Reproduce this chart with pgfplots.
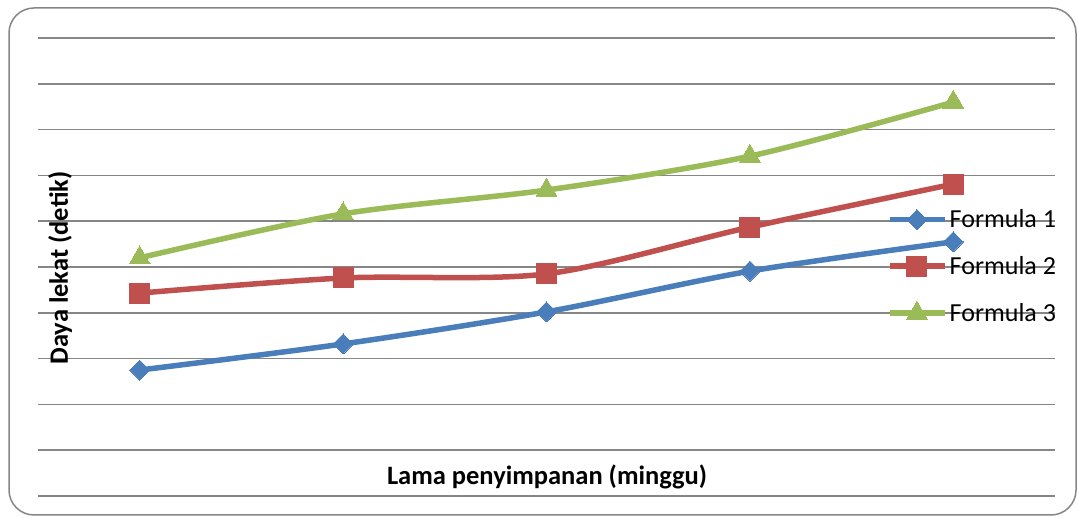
\documentclass[border=0pt]{standalone}
\usepackage{pgfplots}
\pgfplotsset{compat=1.18}
\usepackage{fontspec}
\setmainfont{Carlito}
\definecolor{cblue}{RGB}{74,126,187}
\definecolor{cred}{RGB}{192,80,77}
\definecolor{cgreen}{RGB}{155,187,89}
\definecolor{cgrid}{RGB}{134,134,134}
\begin{document}
\begin{tikzpicture}
\begin{axis}[
  scale only axis, width=1017pt, height=458pt,
  xmin=0.5, xmax=5.5, ymin=0, ymax=10,
  xtick=\empty, ytick={0,1,...,10},
  yticklabels=\empty, major tick length=0pt,
  ymajorgrids, grid style={cgrid, line width=1.5pt},
  axis line style={draw=none},
  clip=false,
  legend style={draw=none, fill=none, at={(0.835,0.629)}, anchor=north west,
    font=\fontsize{26}{30}\selectfont, row sep=23pt,
    inner sep=0pt, outer sep=0pt,
    /tikz/every even column/.append style={column sep=2pt}},
  legend cell align=left,
  legend image code/.code={\draw[mark repeat=2,mark phase=2,#1] plot coordinates {(0pt,0pt)(27pt,0pt)(55pt,0pt)};},
]
\addplot[cblue, line width=5.5pt, smooth, mark=diamond*, mark size=10pt, mark options={solid, line width=0pt, xscale=1.33}] coordinates {(1,2.75)(2,3.32)(3,4.02)(4,4.91)(5,5.55)};
\addlegendentry{Formula 1}
\addplot[cred, line width=5.5pt, smooth, mark=square*, mark size=10pt, mark options={solid, line width=0pt}] coordinates {(1,4.43)(2,4.76)(3,4.85)(4,5.87)(5,6.81)};
\addlegendentry{Formula 2}
\addplot[cgreen, line width=5.5pt, smooth, mark=triangle*, mark size=12pt, mark options={solid, line width=0pt}] coordinates {(1,5.20)(2,6.16)(3,6.68)(4,7.42)(5,8.60)};
\addlegendentry{Formula 3}
\path (axis description cs:-0.03737,-0.04585) rectangle (axis description cs:1.02262,1.08297);
\draw[cgrid, line width=1.5pt, rounded corners=25pt] (axis description cs:-0.02852,-0.04148) rectangle (axis description cs:1.02065,1.06550);
\node[rotate=90, font=\bfseries\fontsize{26.5}{30}\selectfont] at (axis description cs:0.02163,0.4978) {Daya lekat (detik)};
\node[font=\bfseries\fontsize{26.5}{30}\selectfont] at (axis description cs:0.5005,0.0415) {Lama penyimpanan (minggu)};
\end{axis}
\end{tikzpicture}
\end{document}
